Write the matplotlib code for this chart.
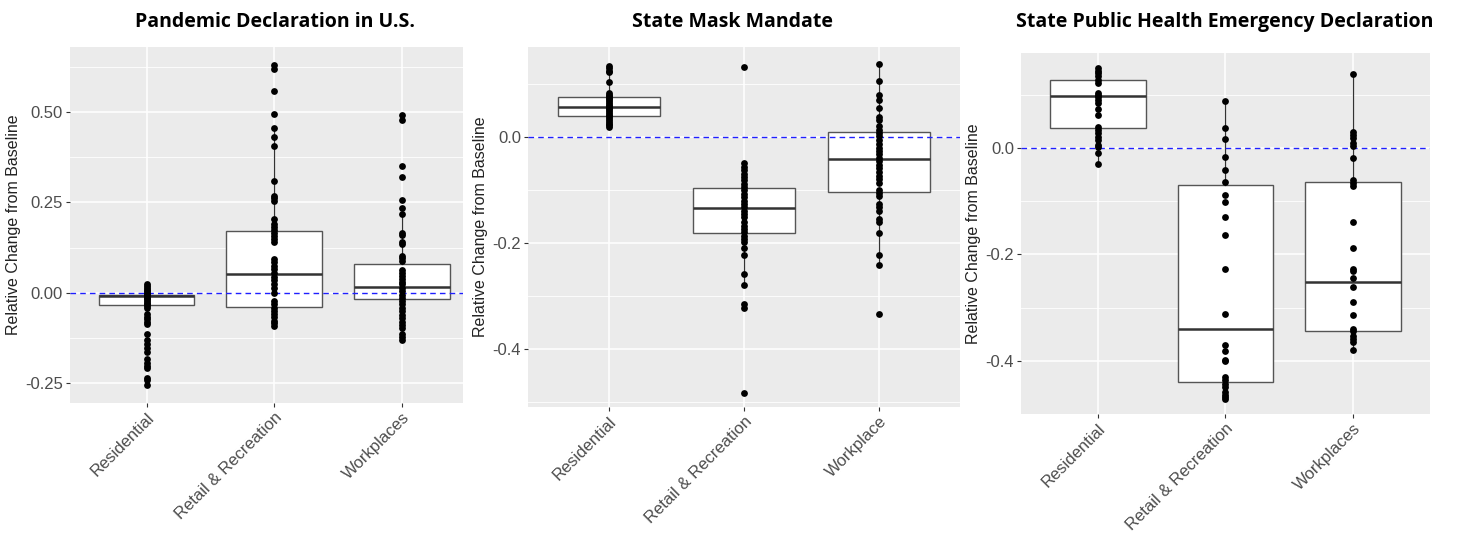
"""Three ggplot-style box plots of mobility change after policy events."""

import matplotlib

matplotlib.use("Agg")
import matplotlib.pyplot as plt
from matplotlib.transforms import ScaledTranslation

categories_a = ["Residential", "Retail & Recreation", "Workplaces"]
categories_b = ["Residential", "Retail & Recreation", "Workplace"]
categories_c = ["Residential", "Retail & Recreation", "Workplaces"]

titles = [
    "Pandemic Declaration in U.S.",
    "State Mask Mandate",
    "State Public Health Emergency Declaration",
]

# --- Pandemic Declaration in U.S. ---
pan_res = [0.025, 0.018, 0.014, 0.009, 0.005, 0.0, -0.004, -0.007, -0.011, -0.015,
           -0.018, -0.023, -0.027, -0.032, -0.036, -0.041, -0.059, -0.066, -0.073,
           -0.080, -0.087, -0.114, -0.132, -0.141, -0.153, -0.164, -0.184, -0.193,
           -0.203, -0.208, -0.235, -0.242, -0.255]
pan_ret = [0.631, 0.620, 0.557, 0.496, 0.456, 0.432, 0.405, 0.310, 0.268, 0.261,
           0.254, 0.205, 0.190, 0.182, 0.175, 0.166, 0.157, 0.148, 0.141, 0.093,
           0.084, 0.075, 0.066, 0.055, 0.044, 0.035, 0.023, 0.014, 0.0, -0.023,
           -0.032, -0.041, -0.050, -0.059, -0.068, -0.078, -0.084, -0.091]
pan_wrk = [0.491, 0.477, 0.350, 0.321, 0.257, 0.235, 0.217, 0.166, 0.159, 0.141,
           0.135, 0.102, 0.095, 0.088, 0.064, 0.055, 0.046, 0.038, 0.031, 0.023,
           0.014, 0.005, -0.005, -0.014, -0.023, -0.032, -0.041, -0.050, -0.062,
           -0.071, -0.080, -0.089, -0.098, -0.114, -0.123, -0.132]
# box stats: q1, median, q3, whisker low, whisker high
pan_box = [
    (-0.034, -0.009, -0.006, -0.073, 0.025),
    (-0.039, 0.053, 0.172, -0.091, 0.456),
    (-0.018, 0.017, 0.080, -0.132, 0.217),
]

# --- State Mask Mandate ---
mask_res = [0.134, 0.130, 0.125, 0.122, 0.103, 0.084, 0.080, 0.077, 0.074, 0.071,
            0.068, 0.065, 0.061, 0.058, 0.055, 0.052, 0.049, 0.046, 0.042, 0.039,
            0.035, 0.032, 0.028, 0.025, 0.022, 0.018]
mask_ret = [0.132, -0.049, -0.057, -0.063, -0.070, -0.076, -0.082, -0.089, -0.095,
            -0.101, -0.108, -0.114, -0.120, -0.127, -0.133, -0.139, -0.146, -0.152,
            -0.161, -0.168, -0.174, -0.180, -0.187, -0.193, -0.199, -0.209, -0.222,
            -0.259, -0.280, -0.316, -0.323, -0.483]
mask_wrk = [0.138, 0.106, 0.079, 0.070, 0.054, 0.037, 0.032, 0.020, 0.014, 0.008,
            0.001, -0.005, -0.013, -0.020, -0.027, -0.033, -0.039, -0.046, -0.052,
            -0.058, -0.066, -0.073, -0.079, -0.087, -0.101, -0.106, -0.111, -0.127,
            -0.133, -0.139, -0.155, -0.161, -0.182, -0.222, -0.242, -0.334]
mask_box = [
    (0.040, 0.057, 0.075, 0.018, 0.122),
    (-0.182, -0.135, -0.096, -0.280, -0.049),
    (-0.104, -0.042, 0.009, -0.242, 0.138),
]

# --- State Public Health Emergency Declaration ---
emer_res = [0.149, 0.145, 0.140, 0.135, 0.128, 0.122, 0.103, 0.099, 0.095, 0.090,
            0.085, 0.072, 0.061, 0.039, 0.034, 0.027, 0.021, 0.015, 0.005, 0.001,
            -0.010, -0.030]
emer_ret = [0.088, 0.037, 0.016, -0.017, -0.041, -0.065, -0.089, -0.102, -0.130,
            -0.164, -0.228, -0.312, -0.370, -0.381, -0.398, -0.401, -0.431, -0.437,
            -0.443, -0.449, -0.459, -0.464, -0.468, -0.472]
emer_wrk = [0.138, 0.030, 0.024, 0.018, 0.009, 0.004, -0.019, -0.061, -0.066, -0.071,
            -0.140, -0.189, -0.227, -0.231, -0.244, -0.262, -0.290, -0.314, -0.340,
            -0.345, -0.353, -0.359, -0.365, -0.379]
emer_box = [
    (0.037, 0.098, 0.128, -0.030, 0.149),
    (-0.440, -0.340, -0.070, -0.472, 0.088),
    (-0.345, -0.253, -0.065, -0.379, 0.138),
]

W, H = 1459, 535
# axes rectangles in pixels: left, right, top, bottom
panel_px = [(70, 463, 47, 403), (528, 960, 47, 407), (1021, 1430, 53, 414)]
ylims = [(-0.305, 0.68), (-0.51, 0.17), (-0.497, 0.178)]
xlims = [(0.4, 3.48), (0.4, 3.6), (0.4, 3.6)]
major_ticks = [[-0.25, 0.0, 0.25, 0.5], [-0.4, -0.2, 0.0], [-0.4, -0.2, 0.0]]
tick_text = [["-0.25", "0.00", "0.25", "0.50"], ["-0.4", "-0.2", "0.0"], ["-0.4", "-0.2", "0.0"]]
minor_ticks = [[-0.125, 0.125, 0.375, 0.625], [-0.5, -0.3, -0.1, 0.1], [-0.5, -0.3, -0.1, 0.1]]
title_x = [275, 733, 1225]

panels = [
    (categories_a, [pan_res, pan_ret, pan_wrk], pan_box),
    (categories_b, [mask_res, mask_ret, mask_wrk], mask_box),
    (categories_c, [emer_res, emer_ret, emer_wrk], emer_box),
]

plt.rcParams["font.family"] = ["Liberation Sans", "DejaVu Sans"]
fig = plt.figure(figsize=(W / 100, H / 100), dpi=100)
label_shift = ScaledTranslation(8 / 100, -4 / 100, fig.dpi_scale_trans)

for i, (cats, series, boxes) in enumerate(panels):
    left, right, top, bottom = panel_px[i]
    ax = fig.add_axes([left / W, (H - bottom) / H, (right - left) / W, (bottom - top) / H])
    ax.set_facecolor("#EBEBEB")
    for s in ax.spines.values():
        s.set_visible(False)

    pos = list(range(1, len(cats) + 1))
    stats = [
        dict(q1=b[0], med=b[1], q3=b[2], whislo=b[3], whishi=b[4], fliers=[])
        for b in boxes
    ]
    ax.bxp(
        stats, positions=pos, widths=0.75, showfliers=False, showcaps=False,
        patch_artist=True,
        boxprops=dict(facecolor="white", edgecolor="#555555", linewidth=1.0),
        medianprops=dict(color="#333333", linewidth=1.8),
        whiskerprops=dict(color="#333333", linewidth=0.9),
        zorder=2,
    )
    ax.axhline(0, color="#1f1fff", linestyle=(0, (4, 3)), linewidth=1.0, zorder=3)
    for p, vals in zip(pos, series):
        ax.scatter([p] * len(vals), vals, s=24, color="black", zorder=4, linewidths=0)

    ax.set_xlim(*xlims[i])
    ax.set_ylim(*ylims[i])
    ax.set_xticks(pos)
    ax.set_xticklabels(cats, rotation=45, ha="right", va="top", rotation_mode="anchor",
                       fontsize=12, color="#4D4D4D")
    for lab in ax.get_xticklabels():
        lab.set_transform(lab.get_transform() + label_shift)
    ax.set_yticks(major_ticks[i])
    ax.set_yticklabels(tick_text[i], fontsize=12, color="#4D4D4D")
    ax.set_yticks(minor_ticks[i], minor=True)
    ax.tick_params(axis="both", which="major", length=3, width=0.8, color="#333333", pad=2)
    ax.tick_params(axis="y", which="minor", length=0)
    ax.grid(True, which="major", color="white", linewidth=1.1)
    ax.grid(True, which="minor", axis="y", color="white", linewidth=0.6)
    ax.set_axisbelow(True)
    ax.set_ylabel("Relative Change from Baseline", fontsize=11.5, color="#222222", labelpad=3)

    fig.text(title_x[i] / W, 1 - 22 / H, titles[i], ha="center", va="center",
             fontsize=14, fontweight="bold", family=["Open Sans", "DejaVu Sans"])

fig.savefig("out.png", dpi=100)
plt.close(fig)
